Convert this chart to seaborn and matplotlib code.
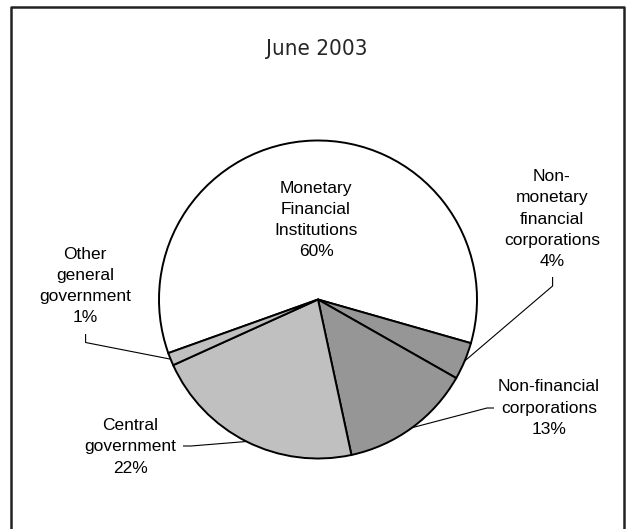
import numpy as np
import matplotlib
matplotlib.use("Agg")
import matplotlib.pyplot as plt
from matplotlib import font_manager as fm
import seaborn as sns

# ---- data ----
categories = ["Monetary\nFinancial\nInstitutions",
              "Non-\nmonetary\nfinancial\ncorporations",
              "Non-financial\ncorporations",
              "Central\ngovernment",
              "Other\ngeneral\ngovernment"]
shares = [59.9, 3.8, 13.4, 21.6, 1.3]
colors = ["#FFFFFF", "#969696", "#969696", "#C0C0C0", "#C0C0C0"]
title = "June 2003"

sns.set_theme(style="white")
plt.rcParams["font.family"] = ["Liberation Sans", "DejaVu Sans"]

# pick a narrow font for the title if one is installed
narrow = None
for f in fm.fontManager.ttflist:
    if "Narrow" in f.name or (f.stretch in ("condensed", "semi-condensed", 400)
                               and "Sans" in f.name and f.weight in (400, "normal")
                               and f.style == "normal"):
        narrow = f
        break

W, H = 626, 529
fig = plt.figure(figsize=(W / 100, H / 100), dpi=100)
ax = fig.add_axes([0, 0, 1, 1])

cx, cy, R = 318, H - 299.5, 159
wedges, _ = ax.pie(shares, colors=colors, startangle=199.7, counterclock=False,
                   center=(cx, cy), radius=R, frame=True,
                   wedgeprops=dict(edgecolor="black", linewidth=1.4))
ax.set_xlim(0, W)
ax.set_ylim(0, H)
ax.axis("off")

def P(y):
    return H - y

labels = [f"{c}\n{round(s):d}%" for c, s in zip(categories, shares)]

fs = 12.5
ls = 1.52
layout = [
    dict(xy=(316, 220), lead=None),
    dict(xy=(552, 219), lead=[(552.6, 277), (552.6, 286)]),
    dict(xy=(549, 408), lead=[(494, 408), (487, 408)]),
    dict(xy=(130, 447), lead=[(183, 446), (191, 446)]),
    dict(xy=(85, 286), lead=[(85.6, 334), (85.6, 342.5)]),
]

for w, lab, lay in zip(wedges, labels, layout):
    x, y = lay["xy"]
    ax.text(x, P(y), lab, ha="center", va="center", fontsize=fs,
            linespacing=ls, color="black")
    if lay["lead"] is not None:
        mid = np.deg2rad((w.theta1 + w.theta2) / 2)
        ex, ey = cx + R * np.cos(mid), cy + R * np.sin(mid)
        (x0, y0), (x1, y1) = lay["lead"]
        ax.plot([x0, x1, ex], [P(y0), P(y1), ey], color="black", lw=0.8,
                solid_capstyle="butt")

if narrow is not None:
    ax.text(317, P(49), title, ha="center", va="center",
            fontproperties=fm.FontProperties(fname=narrow.fname, size=16))
else:
    ax.text(317, P(49), title, ha="center", va="center", fontsize=15)

# outer frame
ax.plot([11, 11, 624, 624], [-5, P(7), P(7), -5], color="#222222", lw=1.8,
        clip_on=False)

fig.savefig("out.png", dpi=100)
